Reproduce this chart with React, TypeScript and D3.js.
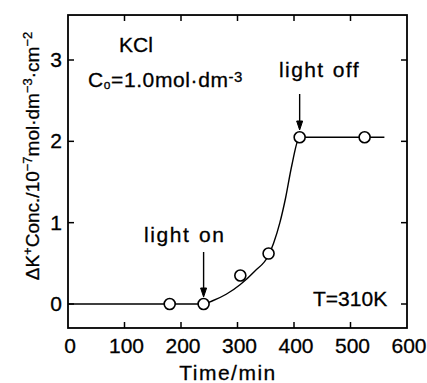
import React, {useRef, useEffect} from 'react';
import * as d3 from 'd3';

// measured points (time / min, ΔK+ conc / 1e-7 mol dm-3 cm-2)
const pointTimes = [180, 240, 305, 355, 410, 525];
const pointValues = [0, 0, 0.35, 0.62, 2.05, 2.05];

// hand-drawn guide curve through the data
const curveTimes = [0, 240, 256, 280, 305, 330, 355, 364, 375, 385, 396, 410, 560];
const curveValues = [0, 0, 0.04, 0.12, 0.24, 0.4, 0.6, 0.75, 1.0, 1.3, 1.7, 2.05, 2.05];

const xTicks = [0, 100, 200, 300, 400, 500, 600];
const yTicks = [0, 1, 2, 3];

const FONT = '"Liberation Sans", Arial, Helvetica, sans-serif';

const Chart: React.FC = () => {
    const ref = useRef<SVGSVGElement | null>(null);

    useEffect(() => {
        if (!ref.current) return;
        const svg = d3.select(ref.current);
        svg.selectAll('*').remove();

        const x = d3.scaleLinear().domain([0, 600]).range([68, 407]);
        const y = d3.scaleLinear().domain([0, 3]).range([304, 60]);
        const yLo = -0.295, yHi = 3.553;

        const left = x(0), right = x(600), top = y(yHi), bottom = y(yLo);

        // frame
        svg.append('rect')
            .attr('x', left).attr('y', top)
            .attr('width', right - left).attr('height', bottom - top)
            .attr('fill', 'none').attr('stroke', '#000').attr('stroke-width', 1.8);

        const tk = 6;
        const inner = xTicks.filter(t => t > 0 && t < 600);
        svg.selectAll('line.xb').data(inner).join('line')
            .attr('x1', d => x(d)).attr('x2', d => x(d))
            .attr('y1', bottom).attr('y2', bottom - tk)
            .attr('stroke', '#000').attr('stroke-width', 1.5);
        svg.selectAll('line.xt').data(inner).join('line')
            .attr('x1', d => x(d)).attr('x2', d => x(d))
            .attr('y1', top).attr('y2', top + tk)
            .attr('stroke', '#000').attr('stroke-width', 1.5);
        svg.selectAll('line.yl').data(yTicks).join('line')
            .attr('x1', left).attr('x2', left + tk)
            .attr('y1', d => y(d)).attr('y2', d => y(d))
            .attr('stroke', '#000').attr('stroke-width', 1.5);
        svg.selectAll('line.yr').data(yTicks).join('line')
            .attr('x1', right).attr('x2', right - tk)
            .attr('y1', d => y(d)).attr('y2', d => y(d))
            .attr('stroke', '#000').attr('stroke-width', 1.5);

        const txt = svg.append('g')
            .attr('font-family', FONT).attr('font-size', 21)
            .attr('fill', '#000').attr('stroke', '#000').attr('stroke-width', 0.3);

        // tick labels
        txt.append('g').selectAll('text').data(xTicks).join('text')
            .attr('x', d => x(d) + 2).attr('y', 353)
            .attr('text-anchor', 'middle')
            .text(d => d);
        txt.append('g').selectAll('text').data(yTicks).join('text')
            .attr('x', 62).attr('y', d => y(d) + 7)
            .attr('text-anchor', 'end')
            .text(d => d);

        // axis titles
        txt.append('text')
            .attr('x', 228).attr('y', 380)
            .attr('text-anchor', 'middle').attr('letter-spacing', 1.5)
            .text('Time/min');

        const yl = txt.append('text')
            .attr('transform', 'translate(39,156) rotate(-90)')
            .attr('text-anchor', 'middle')
            .attr('font-size', 19);
        yl.append('tspan').text('ΔK');
        yl.append('tspan').attr('font-size', 13).attr('dy', -7).text('+');
        yl.append('tspan').attr('dy', 7).text('Conc./10');
        yl.append('tspan').attr('font-size', 13).attr('dy', -7).text('−7');
        yl.append('tspan').attr('dy', 7).text('mol·dm');
        yl.append('tspan').attr('font-size', 13).attr('dy', -7).text('−3');
        yl.append('tspan').attr('dy', 7).text('·cm');
        yl.append('tspan').attr('font-size', 13).attr('dy', -7).text('−2');

        // guide curve
        const line = d3.line<number>()
            .x((d, i) => x(curveTimes[i]))
            .y(d => y(d))
            .curve(d3.curveMonotoneX);
        svg.append('path')
            .attr('d', line(curveValues))
            .attr('fill', 'none').attr('stroke', '#000').attr('stroke-width', 1.4);

        // data points
        svg.selectAll('circle').data(pointValues).join('circle')
            .attr('cx', (d, i) => x(pointTimes[i]))
            .attr('cy', d => y(d))
            .attr('r', 5.5)
            .attr('fill', '#fff').attr('stroke', '#000').attr('stroke-width', 1.6);

        // annotations
        const note = (tx: number, ty: number, s: string, ls: number) =>
            txt.append('text').attr('x', tx).attr('y', ty)
                .attr('letter-spacing', ls).attr('word-spacing', 1).text(s);

        note(119, 52, 'KCl', 0);
        const c0 = txt.append('text').attr('x', 88).attr('y', 87).attr('letter-spacing', 0.6);
        c0.append('tspan').text('C');
        c0.append('tspan').attr('font-size', 12).attr('dy', 2).text('o');
        c0.append('tspan').attr('dy', -2).text('=1.0mol·dm');
        c0.append('tspan').attr('font-size', 15).attr('dy', -5).text('-3');

        note(144, 242, 'light on', 1.6);
        note(279, 77, 'light off', 1.4);
        note(313, 306, 'T=310K', 0);

        // arrows
        const arrow = (ax: number, y1: number, y2: number) => {
            svg.append('line').attr('x1', ax).attr('x2', ax)
                .attr('y1', y1).attr('y2', y2 - 2)
                .attr('stroke', '#000').attr('stroke-width', 1.4);
            svg.append('path')
                .attr('d', `M${ax - 3},${y2 - 9}L${ax},${y2}L${ax + 3},${y2 - 9}Z`)
                .attr('fill', '#000').attr('stroke', '#000').attr('stroke-width', 1);
        };
        arrow(x(240), 252, 297);
        arrow(x(410), 94, 130);
    }, []);

    return <svg ref={ref} width={427} height={383} style={{display: 'block'}}></svg>;
};

export default function App() {
    return (
        <div style={{position: 'absolute', left: 0, top: 0, background: '#fff'}}>
            <Chart/>
        </div>
    );
}
